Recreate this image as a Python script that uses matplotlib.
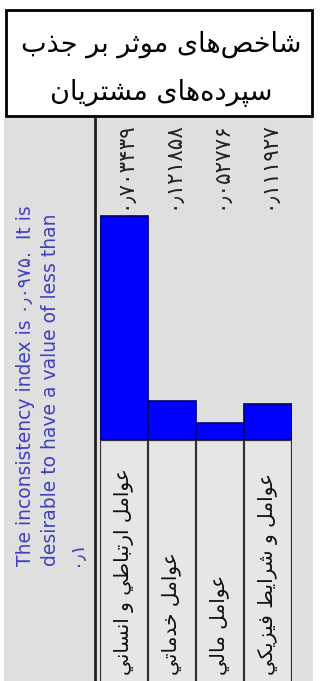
import matplotlib
matplotlib.use("Agg")
import matplotlib.pyplot as plt
from matplotlib.patches import Rectangle

# data
categories = ['عوامل ارتباطي و انساني', 'عوامل خدماتي', 'عوامل مالي',
              'عوامل و شرايط فيزيکي']
weights = [0.703439, 0.121858, 0.052776, 0.111927]
inconsistency = 0.0975
title_lines = ['شاخص\u200cهای موثر بر جذب', 'سپرده\u200cهای مشتریان']

plt.rcParams['font.family'] = ['DejaVu Sans']

# minimal arabic shaping: (isolated, final, initial, medial) or (isolated, final)
FORMS = {
    'ا': (0xFE8D, 0xFE8E), 'ب': (0xFE8F, 0xFE90, 0xFE91, 0xFE92),
    'پ': (0xFB56, 0xFB57, 0xFB58, 0xFB59), 'ت': (0xFE95, 0xFE96, 0xFE97, 0xFE98),
    'ث': (0xFE99, 0xFE9A, 0xFE9B, 0xFE9C), 'ج': (0xFE9D, 0xFE9E, 0xFE9F, 0xFEA0),
    'ح': (0xFEA1, 0xFEA2, 0xFEA3, 0xFEA4), 'خ': (0xFEA5, 0xFEA6, 0xFEA7, 0xFEA8),
    'د': (0xFEA9, 0xFEAA), 'ذ': (0xFEAB, 0xFEAC), 'ر': (0xFEAD, 0xFEAE),
    'ز': (0xFEAF, 0xFEB0), 'س': (0xFEB1, 0xFEB2, 0xFEB3, 0xFEB4),
    'ش': (0xFEB5, 0xFEB6, 0xFEB7, 0xFEB8), 'ص': (0xFEB9, 0xFEBA, 0xFEBB, 0xFEBC),
    'ط': (0xFEC1, 0xFEC2, 0xFEC3, 0xFEC4), 'ع': (0xFEC9, 0xFECA, 0xFECB, 0xFECC),
    'ف': (0xFED1, 0xFED2, 0xFED3, 0xFED4), 'ک': (0xFB8E, 0xFB8F, 0xFB90, 0xFB91),
    'ل': (0xFEDD, 0xFEDE, 0xFEDF, 0xFEE0), 'م': (0xFEE1, 0xFEE2, 0xFEE3, 0xFEE4),
    'ن': (0xFEE5, 0xFEE6, 0xFEE7, 0xFEE8), 'ه': (0xFEE9, 0xFEEA, 0xFEEB, 0xFEEC),
    'و': (0xFEED, 0xFEEE), 'ی': (0xFBFC, 0xFBFD, 0xFBFE, 0xFBFF),
    'ي': (0xFEF1, 0xFEF2, 0xFEF3, 0xFEF4),
}


def shape(s):
    out = []
    for i, c in enumerate(s):
        if c not in FORMS:
            if c != '\u200c':
                out.append(c)
            continue
        prev = s[i - 1] if i > 0 else None
        nxt = s[i + 1] if i + 1 < len(s) else None
        f = FORMS[c]
        jp = prev in FORMS and len(FORMS[prev]) == 4
        jn = nxt in FORMS and len(f) == 4
        if jp and jn:
            out.append(chr(f[3]))
        elif jp:
            out.append(chr(f[1]))
        elif jn:
            out.append(chr(f[2]))
        else:
            out.append(chr(f[0]))
    return ''.join(out)[::-1]


fa = str.maketrans('0123456789.', '۰۱۲۳۴۵۶۷۸۹٫')


def fa_num(v, nd):
    return f'{v:.{nd}f}'.translate(fa)


W, H = 320, 681
fig = plt.figure(figsize=(W / 100, H / 100), dpi=100)
fig.patch.set_facecolor('white')


def fx(x):
    return x / W


def fy(y):
    return 1 - y / H


# grey panel and title box
fig.patches.append(Rectangle((fx(4), 0), fx(309), fy(118), transform=fig.transFigure,
                             facecolor='#dfdfdf', edgecolor='none', zorder=-2))
fig.patches.append(Rectangle((fx(6), fy(116)), fx(306), (116 - 10) / H,
                             transform=fig.transFigure, facecolor='white',
                             edgecolor='black', linewidth=2, zorder=-1))
fig.text(fx(161), fy(44), shape(title_lines[0]), ha='center', va='center', fontsize=19.5)
fig.text(fx(161), fy(93), shape(title_lines[1]), ha='center', va='center', fontsize=19.5)

# axis line
fig.add_artist(plt.Line2D([fx(95), fx(95)], [0, fy(118)], transform=fig.transFigure,
                          color='#202020', linewidth=2))

# blue consistency note
note = (f'The inconsistency index is {fa_num(inconsistency, 4)}.  It is\n'
        f'desirable to have a value of less than\n{fa_num(0.1, 1)}')
fig.text(fx(16), fy(566), note, rotation=90, ha='left', va='bottom',
         multialignment='left', color='#4040c0', fontsize=13.5, linespacing=1.4)

# bar area
base, top = 440, 118
scale = 318.0
ax = fig.add_axes([fx(100), fy(base), fx(292 - 100), (base - top) / H])
ax.set_facecolor('none')
x = list(range(len(weights)))
ax.bar(x, weights, width=1.0, color='#0000ff', edgecolor='#00006e', linewidth=1.2)
ax.set_xlim(-0.5, len(weights) - 0.5)
ax.set_ylim(0, (base - top) / scale)
ax.axis('off')
for i, w in enumerate(weights):
    ax.text(i, 0.99, fa_num(w, 6), transform=ax.get_xaxis_transform(), rotation=90,
            rotation_mode='anchor', ha='right', va='center', fontsize=15.5, color='#222222')

# label cells
lax = fig.add_axes([fx(100), 0, fx(292 - 100), fy(base)])
lax.set_facecolor('#e6e6e6')
lax.set_xlim(-0.5, len(categories) - 0.5)
lax.set_ylim(0, 1)
for i in range(len(categories) + 1):
    lax.axvline(i - 0.5, color='#303030', linewidth=1.6)
lax.axhline(1, color='#303030', linewidth=1.6)
lax.set_xticks([])
lax.set_yticks([])
for s in lax.spines.values():
    s.set_visible(False)
for i, c in enumerate(categories):
    lax.text(i, 0.025, shape(c), rotation=90, ha='center', va='bottom',
             fontsize=14.5, color='#111111')

fig.savefig('out.png', dpi=100)
